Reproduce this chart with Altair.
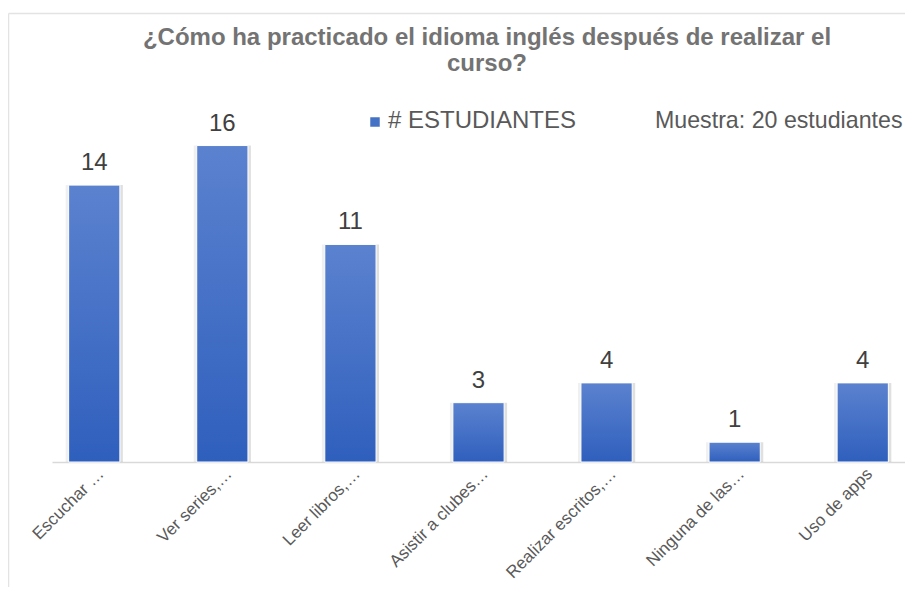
import altair as alt
import pandas as pd

categories = ["Escuchar …", "Ver series,…", "Leer libros,…", "Asistir a clubes…",
              "Realizar escritos,…", "Ninguna de las…", "Uso de apps"]
values = [14, 16, 11, 3, 4, 1, 4]
series_name = "# ESTUDIANTES"
note = "Muestra: 20 estudiantes"
title_lines = ["¿Cómo ha practicado el idioma inglés después de realizar el", "curso?"]

df = pd.DataFrame({"cat": categories, "val": values})

W, H = 853, 356
FONT = "Liberation Sans"

x_enc = alt.X("cat:N", sort=categories, title=None,
              scale=alt.Scale(paddingInner=0.6, paddingOuter=0.13),
              axis=alt.Axis(labelAngle=-45, labelAlign="right", labelBaseline="middle",
                            labelFontSize=17, labelColor="#595959", labelFont=FONT,
                            labelOffset=7, labelPadding=9, ticks=False,
                            domainColor="#d9d9d9", domainWidth=1.5, labelLimit=300))
y_enc = alt.Y("val:Q", scale=alt.Scale(domain=[0, 18], nice=False), axis=None)

base = alt.Chart(df)

shadow_r = base.mark_bar(color="#000000", opacity=0.12, xOffset=3).encode(x=x_enc, y=y_enc)
shadow_l = base.mark_bar(color="#000000", opacity=0.06, xOffset=-3).encode(x=x_enc, y=y_enc)

bars = base.mark_bar(
    color=alt.Gradient(gradient="linear",
                       stops=[alt.GradientStop(color="#5b82cf", offset=0),
                              alt.GradientStop(color="#2f5fbd", offset=1)],
                       x1=0, x2=0, y1=0, y2=1),
    stroke="white", strokeWidth=1,
).encode(x=x_enc, y=y_enc)

labels = base.mark_text(fontSize=24, color="#404040", font=FONT, baseline="alphabetic", dy=-15).encode(
    x=x_enc, y=y_enc, text="val:Q")

one = alt.Chart(pd.DataFrame({"t": [series_name], "n": [note],
                              "t1": [title_lines[0]], "t2": [title_lines[1]]}))
leg_sym = one.mark_point(shape="square", filled=True, size=90, color="#4472c4", opacity=1).encode(
    x=alt.value(323), y=alt.value(16))
leg_txt = one.mark_text(align="left", baseline="middle", fontSize=24, color="#595959", font=FONT).encode(
    x=alt.value(336), y=alt.value(15), text="t:N")
note_txt = one.mark_text(align="left", baseline="middle", fontSize=23.2, color="#595959", font=FONT).encode(
    x=alt.value(603), y=alt.value(15), text="n:N")

title1 = one.mark_text(align="center", baseline="alphabetic", fontSize=24, fontWeight="bold",
                       color="#737373", font=FONT).encode(x=alt.value(435), y=alt.value(-61), text="t1:N")
title2 = one.mark_text(align="center", baseline="alphabetic", fontSize=24, fontWeight="bold",
                       color="#737373", font=FONT).encode(x=alt.value(435), y=alt.value(-35), text="t2:N")

border_l = one.mark_rule(color="#e3e3e3", strokeWidth=1.5).encode(
    x=alt.value(-43.5), y=alt.value(-92.5), y2=alt.value(H + 140))
border_t = one.mark_rule(color="#e3e3e3", strokeWidth=1.5).encode(
    x=alt.value(-43.5), x2=alt.value(W + 20), y=alt.value(-92.5))

chart = alt.layer(border_l, border_t, shadow_l, shadow_r, bars, labels, leg_sym, leg_txt, note_txt,
                  title1, title2).properties(
    width=W, height=H,
    padding={"left": 44, "top": 98, "right": 0, "bottom": 125},
    autosize=alt.AutoSizeParams(type="none"),
).configure(background="white").configure_view(stroke=None)

chart.save("out.html", embed_options={"renderer": "svg", "actions": False})
